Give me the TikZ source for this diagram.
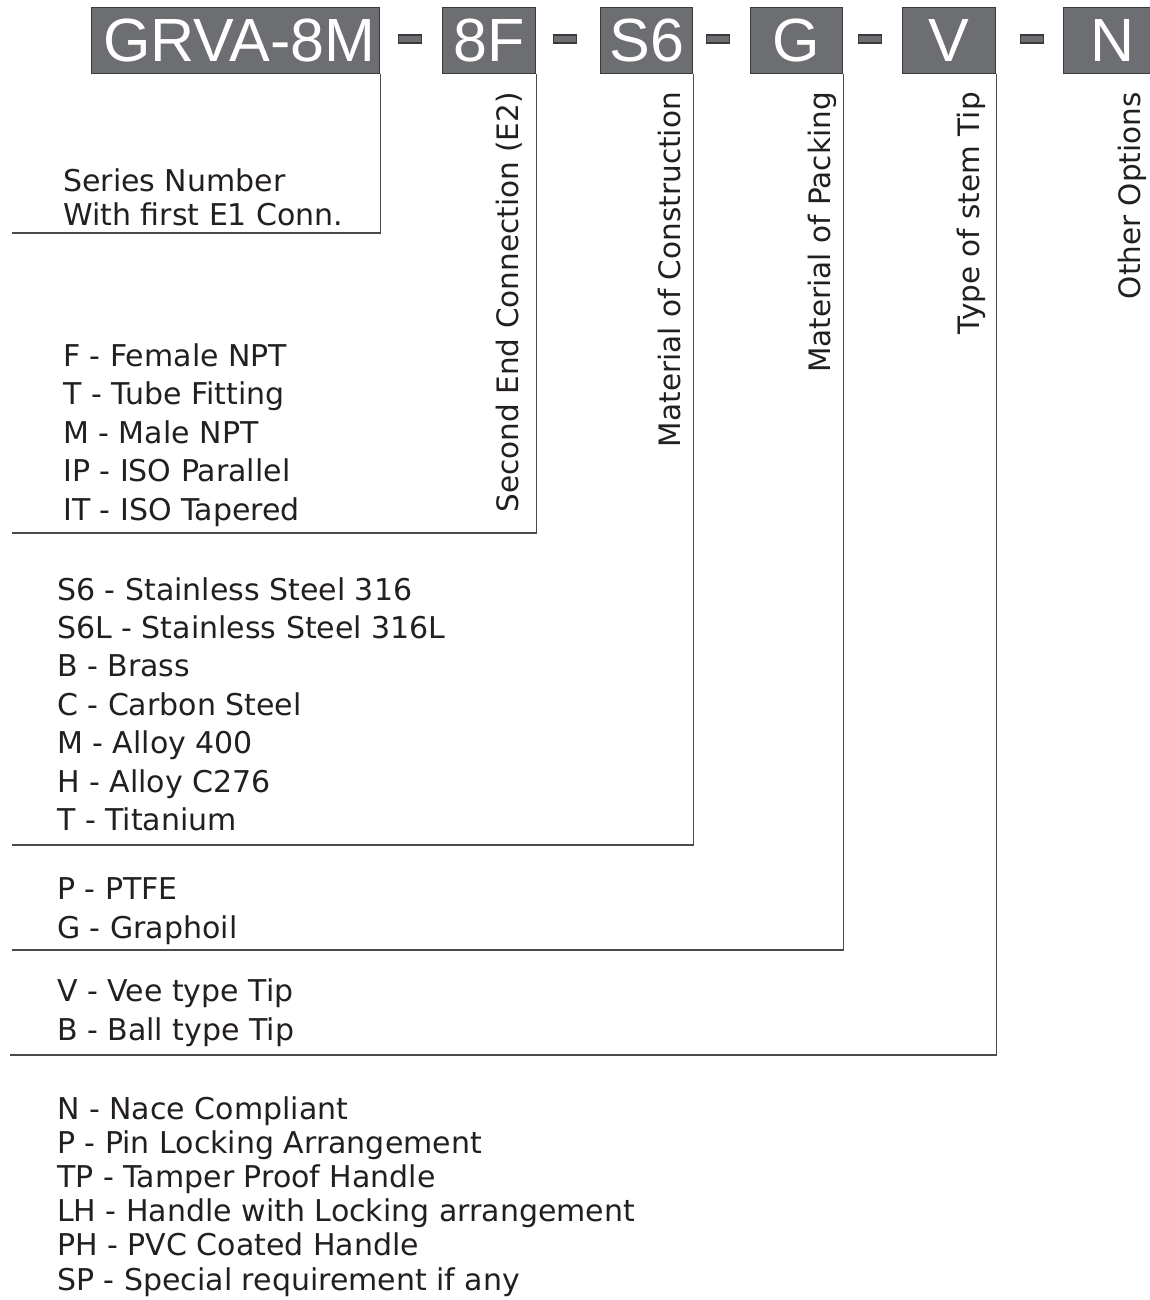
\documentclass[tikz,border=0pt]{standalone}
\usepackage{fontspec}
\setmainfont{DejaVu Sans}
\newfontfamily\boxfont{Liberation Sans}
\definecolor{boxgray}{HTML}{6D6E71}
\definecolor{boxline}{HTML}{3A3A3C}
\definecolor{linegray}{HTML}{4A4A4C}
\definecolor{ink}{HTML}{231F20}
\begin{document}
\begin{tikzpicture}[x=1pt,y=-1pt,
  codebox/.style={draw=boxline, line width=1.4pt, fill=boxgray, text=white,
    inner sep=0pt, anchor=north west, minimum height=66pt,
    font=\boxfont\fontsize{61}{61}\selectfont},
  dashbox/.style={draw=boxline, line width=1.3pt, fill=boxgray,
    minimum width=23pt, minimum height=8pt, inner sep=0pt},
  item/.style={anchor=base west, inner sep=0pt, text=ink,
    font=\fontsize{30}{35}\selectfont},
  vlabel/.style={rotate=90, anchor=east, inner sep=0pt, text=ink,
    font=\fontsize{29.5}{35}\selectfont},
  leader/.style={draw=linegray, line width=1.3pt}]
\clip (0,0) rectangle (1150,1300);
\fill[white] (0,0) rectangle (1150,1300);

% code boxes
\node[codebox, minimum width=288pt, text width=280pt, align=right] (b1) at (91,7) {GRVA-8M};
\node[codebox, minimum width=93pt] (b2) at (442,7) {8F};
\node[codebox, minimum width=92pt] (b3) at (600,7) {S6};
\node[codebox, minimum width=92pt] (b4) at (750,7) {G};
\node[codebox, minimum width=93pt] (b5) at (902,7) {V};
\node[codebox, minimum width=98pt] (b6) at (1063,7) {N};

% dashes
\node[dashbox] (d1) at (410,39) {};
\node[dashbox] (d2) at (565,39) {};
\node[dashbox] (d3) at (718,39) {};
\node[dashbox] (d4) at (870,39) {};
\node[dashbox] (d5) at (1032,39) {};

% leader corners
\coordinate (h1) at (12,233);
\coordinate (h2) at (12,533);
\coordinate (h3) at (12,845);
\coordinate (h4) at (12,950);
\coordinate (h5) at (10,1055);

\draw[leader] (b1.south east) |- (h1);
\draw[leader] (b2.south east) |- (h2);
\draw[leader] (b3.south east) |- (h3);
\draw[leader] (b4.south east) |- (h4);
\draw[leader] (b5.south east) |- (h5);

% rotated labels
\node[vlabel] (r1) at (509,92) {Second End Connection (E2)};
\node[vlabel] (r2) at (669,92) {Material of Construction};
\node[vlabel] (r3) at (822,92) {Material of Packing};
\node[vlabel] (r4) at (971,92) {Type of stem Tip};
\node[vlabel] (r5) at (1132,92) {Other Options};

% series
\node[item] (s1) at (63,191) {Series Number};
\node[item] (s2) at (63,225) {With first E1 Conn.};

% end connections
\foreach \t [count=\i] in {F - Female NPT, T - Tube Fitting, M - Male NPT,
  IP - ISO Parallel, IT - ISO Tapered}
  \node[item] (e\i) at (63,{366+38.5*(\i-1)}) {\t};

% materials
\foreach \t [count=\i] in {S6 - Stainless Steel 316, S6L - Stainless Steel 316L,
  B - Brass, C - Carbon Steel, M - Alloy 400, H - Alloy C276, T - Titanium}
  \node[item] (m\i) at (57,{600+38.4*(\i-1)}) {\t};

% packing
\node[item] (p1) at (57,899) {P - PTFE};
\node[item] (p2) at (57,938) {G - Graphoil};

% tips
\node[item] (t1) at (57,1001) {V - Vee type Tip};
\node[item] (t2) at (57,1040) {B - Ball type Tip};

% other options
\foreach \t [count=\i] in {N - Nace Compliant, P - Pin Locking Arrangement,
  TP - Tamper Proof Handle, LH - Handle with Locking arrangement,
  PH - PVC Coated Handle, SP - Special requirement if any}
  \node[item] (o\i) at (57,{1119+34.2*(\i-1)}) {\t};
\end{tikzpicture}
\end{document}
